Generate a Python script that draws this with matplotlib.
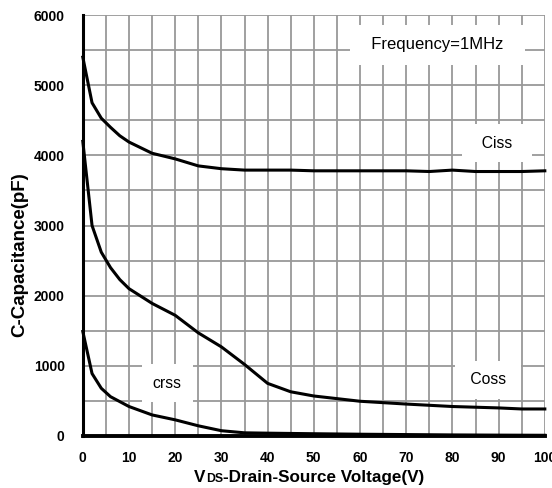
import matplotlib
matplotlib.use("Agg")
import matplotlib.pyplot as plt
from matplotlib.ticker import MultipleLocator
from matplotlib.offsetbox import TextArea, HPacker, AnnotationBbox

plt.rcParams['font.family'] = ['Liberation Sans', 'DejaVu Sans']

# Ciss
v_ciss = [0, 2, 4, 6, 8, 10, 15, 20, 25, 30, 35, 40, 45, 50, 60, 70, 75, 80, 85, 90, 95, 100]
c_ciss = [5400, 4750, 4530, 4400, 4280, 4190, 4030, 3950, 3850, 3810, 3790, 3790, 3790, 3780, 3780, 3780, 3770, 3790, 3770, 3770, 3770, 3780]

# Coss
v_coss = [0, 2, 4, 6, 8, 10, 15, 20, 25, 30, 35, 40, 45, 50, 60, 70, 80, 90, 95, 100]
c_coss = [4200, 3000, 2620, 2400, 2230, 2100, 1890, 1720, 1470, 1270, 1020, 750, 630, 570, 495, 455, 420, 400, 385, 385]

# Crss
v_crss = [0, 2, 4, 6, 8, 10, 15, 20, 25, 30, 35, 40, 50, 60, 70, 80, 90, 100]
c_crss = [1490, 890, 680, 560, 490, 420, 300, 230, 145, 75, 45, 40, 32, 25, 20, 15, 12, 10]

fig = plt.figure(figsize=(5.52, 4.88), dpi=100)
ax = fig.add_axes([0.150, 0.1066, 0.837, 0.8625])

for v, c in [(v_ciss, c_ciss), (v_coss, c_coss), (v_crss, c_crss)]:
    ax.plot(v, c, color='black', lw=2.2, zorder=3, clip_on=False)

ax.set_xlim(0, 100)
ax.set_ylim(0, 6000)
ax.xaxis.set_major_locator(MultipleLocator(10))
ax.xaxis.set_minor_locator(MultipleLocator(5))
ax.yaxis.set_major_locator(MultipleLocator(1000))
ax.yaxis.set_minor_locator(MultipleLocator(500))
ax.grid(which='both', color='#999999', lw=1.3, zorder=0)
ax.tick_params(which='both', length=0, labelsize=10)
ax.tick_params(axis='x', pad=11)
ax.tick_params(axis='y', pad=13)
for lab in ax.get_xticklabels() + ax.get_yticklabels():
    lab.set_fontweight('bold')

for s in ['top', 'right']:
    ax.spines[s].set_visible(False)
ax.spines['left'].set_linewidth(2.2)
ax.spines['bottom'].set_linewidth(2.8)
ax.spines['left'].set_zorder(4)
ax.spines['bottom'].set_zorder(4)

def label(x, y, s, size, pad):
    ax.text(x, y, s, fontsize=size, ha='center', va='center', zorder=2,
            bbox=dict(facecolor='white', edgecolor='none', pad=pad))

label(76.8, 5580, '  Frequency=1MHz  ', 12, 9)
label(89.6, 4175, '  Ciss  ', 11.3, 8)
label(87.7, 800, ' Coss ', 11.3, 8)
label(18.3, 755, 'crss', 11.3, 8)

ax.set_ylabel('C-Capacitance(pF)', fontsize=13.5, fontweight='bold')
ax.yaxis.set_label_coords(-0.118, 0.43)

parts = [TextArea('V', textprops=dict(fontsize=12.3, fontweight='bold')),
         TextArea('DS', textprops=dict(fontsize=8.8, fontweight='bold')),
         TextArea('-Drain-Source Voltage(V)', textprops=dict(fontsize=12.3, fontweight='bold'))]
pack = HPacker(children=parts, align='baseline', pad=0, sep=0)
ab = AnnotationBbox(pack, (0.49, -0.098), xycoords='axes fraction', frameon=False, box_alignment=(0.5, 0.5))
ax.add_artist(ab)

fig.savefig('out.png', dpi=100)
